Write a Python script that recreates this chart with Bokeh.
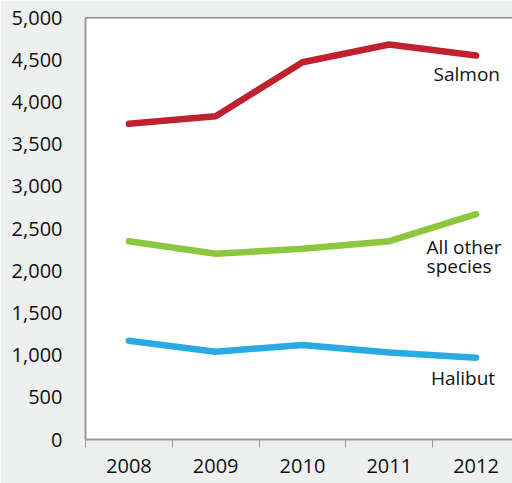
from bokeh.plotting import figure
from bokeh.models import Range1d, FixedTicker, Span, Label, NumeralTickFormatter
from bokeh.embed import file_html
from bokeh.resources import INLINE

years = [2008, 2009, 2010, 2011, 2012]
salmon = [3740, 3830, 4470, 4680, 4550]
other = [2350, 2200, 2260, 2350, 2670]
halibut = [1170, 1040, 1120, 1030, 970]
y_ticks = [0, 500, 1000, 1500, 2000, 2500, 3000, 3500, 4000, 4500, 5000]

BG = "#eef0f0"
FONT = "Open Sans"

p = figure(width=512, height=483, output_backend="svg", toolbar_location=None,
           x_range=Range1d(2007.5, 2012.42), y_range=Range1d(0, 5000),
           min_border_left=85, min_border_top=17, min_border_bottom=44, min_border_right=0)
p.border_fill_color = BG
p.background_fill_color = "white"
p.outline_line_color = None
p.grid.visible = False

p.line(years, salmon, line_color="#c1202f", line_width=6.5, line_cap="round", line_join="round")
p.line(years, other, line_color="#8dc63f", line_width=6.5, line_cap="round", line_join="round")
p.line(years, halibut, line_color="#2aaae2", line_width=6.5, line_cap="round", line_join="round")

xa = p.xaxis[0]
xa.ticker = FixedTicker(ticks=years, minor_ticks=[y - 0.5 for y in years])
xa.major_tick_line_color = None
xa.minor_tick_line_color = "#999999"
xa.minor_tick_out = 8
xa.minor_tick_in = 0
xa.axis_line_color = "#999999"
xa.axis_line_width = 2
xa.major_label_text_font = FONT
xa.major_label_text_font_size = "20px"
xa.major_label_text_color = "#111111"
xa.major_label_standoff = 11

ya = p.yaxis[0]
ya.ticker = FixedTicker(ticks=y_ticks)
ya.formatter = NumeralTickFormatter(format="0,0")
ya.major_tick_line_color = None
ya.minor_tick_line_color = None
ya.axis_line_color = "#999999"
ya.axis_line_width = 2
ya.major_label_text_font = FONT
ya.major_label_text_font_size = "20px"
ya.major_label_text_color = "#111111"
ya.major_label_standoff = 17

p.add_layout(Span(location=5000, dimension="width", line_color="#222222", line_width=1.5))

lab = dict(text_font=FONT, text_font_size="19px", text_color="#111111",
           text_baseline="middle", text_align="left")
p.add_layout(Label(x=2011.51, y=4325, text="Salmon", **lab))
p.add_layout(Label(x=2011.43, y=2280, text="All other", **lab))
p.add_layout(Label(x=2011.43, y=2050, text="species", **lab))
p.add_layout(Label(x=2011.48, y=723, text="Halibut", **lab))

open("out.html", "w").write(file_html(p, INLINE))
